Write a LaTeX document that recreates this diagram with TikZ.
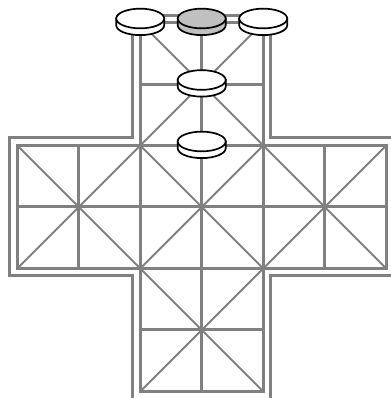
\documentclass[tikz,border=0pt]{standalone}
\usetikzlibrary{calc}
\definecolor{boardgray}{RGB}{128,128,128}
\definecolor{discgray}{RGB}{192,192,192}
\tikzset{
  gridline/.style={draw=boardgray,line width=3pt},
  diagline/.style={draw=boardgray,line width=1.9pt},
  borderline/.style={draw=boardgray,line width=3pt},
  piece/.style={draw=black,line width=1.7pt},
  disc/.pic={
    \filldraw[piece,fill=#1] (-0.39,0.065) -- (-0.39,-0.045)
      arc[start angle=180,end angle=360,x radius=0.39,y radius=0.16] -- (0.39,0.065) -- cycle;
    \filldraw[piece,fill=#1] (0,0.065) ellipse[x radius=0.39,y radius=0.16];
  }
}
\begin{document}
\begin{tikzpicture}[x=61.5pt,y=61.5pt]
\useasboundingbox (-3.28,-3.106) rectangle (3.078,3.366);
\clip (-3.28,-3.106) rectangle (3.078,3.366);
\def\d{0.122}
% outer border (its right and bottom sides lie beyond the picture's edge)
\draw[borderline] (-1-\d,3+\d) -- (1+\d,3+\d) -- (1+\d,1+\d) -- (3.2,1+\d) -- (3.2,-1-\d)
  -- (1+\d,-1-\d) -- (1+\d,-3.3) -- (-1-\d,-3.3) -- (-1-\d,-1-\d) -- (-3-\d,-1-\d)
  -- (-3-\d,1+\d) -- (-1-\d,1+\d) -- cycle;
% diagonals
\foreach \x/\y in {-2/0,0/0,2/0,0/2,0/-2}{
  \draw[diagline] (\x-1,\y-1) -- (\x+1,\y+1);
  \draw[diagline] (\x-1,\y+1) -- (\x+1,\y-1);
}
% grid
\draw[gridline] (-1,3) -- (1,3) -- (1,1) -- (3,1) -- (3,-1) -- (1,-1) -- (1,-3) -- (-1,-3)
  -- (-1,-1) -- (-3,-1) -- (-3,1) -- (-1,1) -- cycle;
\draw[gridline] (-3,0) -- (3,0);
\draw[gridline] (-1,1) -- (1,1);
\draw[gridline] (-1,-1) -- (1,-1);
\draw[gridline] (-1,2) -- (1,2);
\draw[gridline] (-1,-2) -- (1,-2);
\draw[gridline] (0,3) -- (0,-3);
\draw[gridline] (-1,1) -- (-1,-1);
\draw[gridline] (1,1) -- (1,-1);
\draw[gridline] (-2,1) -- (-2,-1);
\draw[gridline] (2,1) -- (2,-1);
% pieces
\pic at (-1,3) {disc=white};
\pic at (0,3) {disc=discgray};
\pic at (1,3) {disc=white};
\pic at (0,2) {disc=white};
\pic at (0,1) {disc=white};
\end{tikzpicture}
\end{document}
